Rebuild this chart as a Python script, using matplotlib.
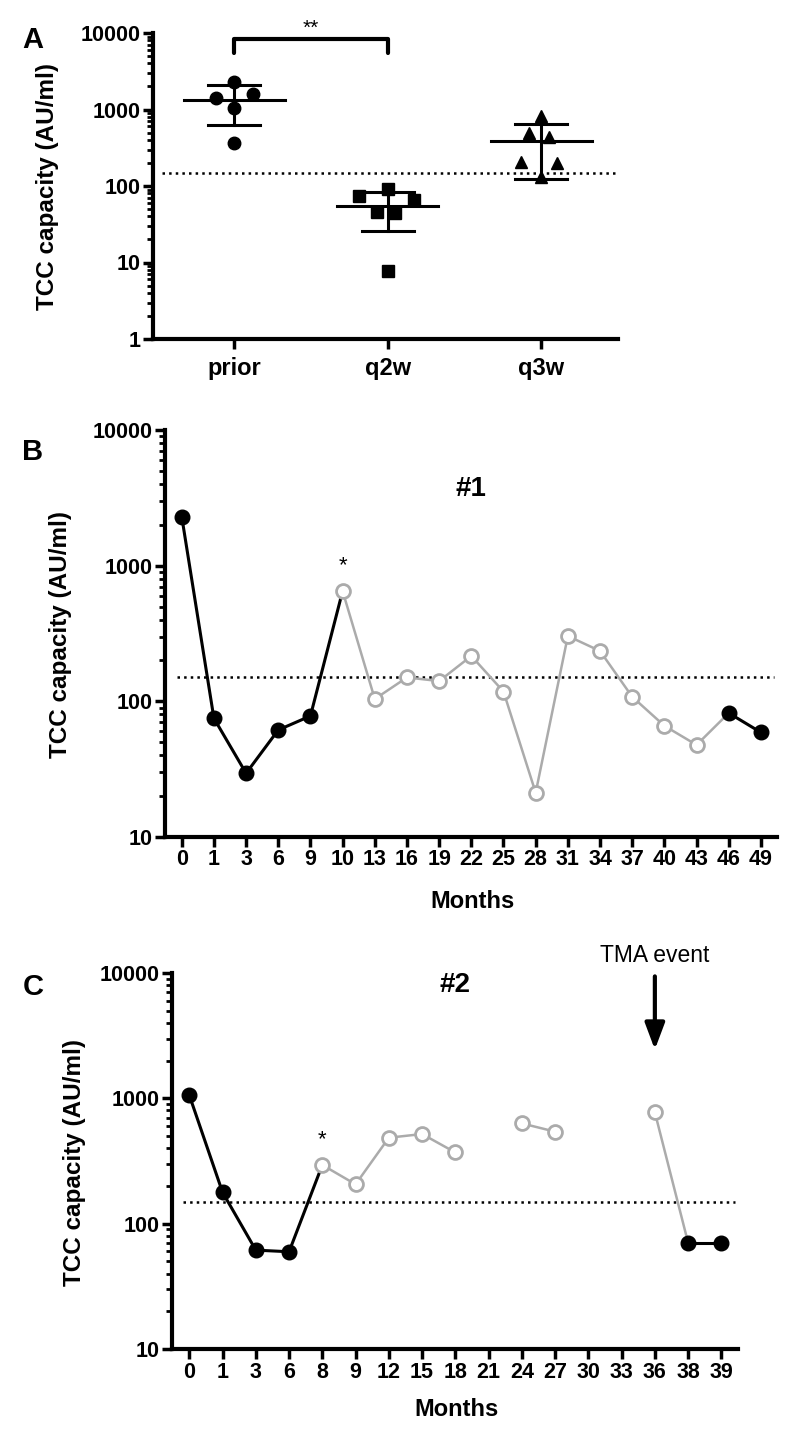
import matplotlib.pyplot as plt
import numpy as np
from matplotlib.ticker import FixedLocator, FixedFormatter, LogLocator, NullFormatter

plt.rcParams['font.family'] = ['Liberation Sans', 'DejaVu Sans']
plt.rcParams['font.weight'] = 'bold'

# ---- data ----
groups = ['prior', 'q2w', 'q3w']
prior = [2310, 1430, 1580, 1040, 360]
q2w = [74, 91, 66, 46, 45, 7.8]
q3w = [820, 500, 440, 208, 198, 132]
# horizontal spread of the points inside each column
prior_dx = [0, -0.12, 0.12, 0, 0]
q2w_dx = [-0.19, 0, 0.17, -0.07, 0.05, 0]
q3w_dx = [0, -0.08, 0.05, -0.13, 0.1, 0]

months_1 = [0, 1, 3, 6, 9, 10, 13, 16, 19, 22, 25, 28, 31, 34, 37, 40, 43, 46, 49]
tcc_1 = [2300, 75, 29.5, 61.5, 78, 650, 104, 150, 141, 216, 118, 21.2, 303, 235,
         108, 66, 47.7, 82, 59]
filled_1 = [1, 1, 1, 1, 1, 0, 0, 0, 0, 0, 0, 0, 0, 0, 0, 0, 0, 1, 1]

months_2 = [0, 1, 3, 6, 8, 9, 12, 15, 18, 21, 24, 27, 30, 33, 36, 38, 39]
tcc_2 = [1060, 178, 61.5, 59.7, 294, 206, 485, 519, 370, np.nan, 631, 542,
         np.nan, np.nan, 773, 70.4, 70.4]
filled_2 = [1, 1, 1, 1, 0, 0, 0, 0, 0, 0, 0, 0, 0, 0, 0, 1, 1]

cutoff = 150
GREY = '#ababab'

fig = plt.figure(figsize=(8, 14.39), dpi=100)
W, H = 800, 1439

def px_axes(l, r, t, b):
    return fig.add_axes([l / W, 1 - b / H, (r - l) / W, (b - t) / H])

def style(ax, ymin, xsize):
    for s in ['top', 'right']:
        ax.spines[s].set_visible(False)
    for s in ['left', 'bottom']:
        ax.spines[s].set_linewidth(3)
    ax.set_yscale('log')
    ax.set_ylim(ymin, 10000)
    majors = [v for v in [1, 10, 100, 1000, 10000] if v >= ymin]
    ax.yaxis.set_major_locator(FixedLocator(majors))
    ax.yaxis.set_major_formatter(FixedFormatter([str(v) for v in majors]))
    ax.yaxis.set_minor_locator(LogLocator(base=10, subs=np.arange(2, 10)))
    ax.yaxis.set_minor_formatter(NullFormatter())
    ax.tick_params(axis='both', which='major', length=7, width=2.5, pad=2)
    ax.tick_params(axis='y', labelsize=15.5)
    ax.tick_params(axis='x', labelsize=xsize)
    ax.tick_params(axis='y', which='minor', length=4, width=2)
    ax.axhline(cutoff, xmin=0.02, xmax=0.995, color='black', ls=':', lw=1.8, zorder=1)

# ---- panel A ----
axA = px_axes(153, 618, 33, 339)
style(axA, 1, 17)
axA.set_xlim(-0.53, 2.5)
axA.set_xticks(range(len(groups)))
axA.set_xticklabels(groups)
axA.tick_params(axis='x', pad=6)
markers = ['o', 's', '^']
msizes = [9, 8, 9]
for i, (vals, dx) in enumerate([(prior, prior_dx), (q2w, q2w_dx), (q3w, q3w_dx)]):
    vals = np.array(vals)
    axA.plot(i + np.array(dx), vals, ls='none', marker=markers[i], ms=msizes[i],
             color='black', zorder=3)
    m = vals.mean()
    sd = vals.std(ddof=1)
    axA.plot([i - 0.33, i + 0.33], [m, m], color='black', lw=2.2, zorder=2)
    axA.plot([i - 0.17, i + 0.17], [m + sd, m + sd], color='black', lw=2.2, zorder=2)
    axA.plot([i - 0.17, i + 0.17], [m - sd, m - sd], color='black', lw=2.2, zorder=2)
    axA.plot([i, i], [m - sd, m + sd], color='black', lw=2.2, zorder=2)
axA.plot([0, 0, 1, 1], [5430, 8280, 8280, 5430], color='black', lw=3,
         clip_on=False, solid_capstyle='round')
axA.annotate('**', (0.5, 8280), xytext=(0, 1), textcoords='offset points',
             ha='center', va='bottom', fontsize=15, fontweight='normal',
             annotation_clip=False)

# ---- panels B and C ----
def timeline(ax, months, tcc, filled, n):
    x = np.arange(n)
    ax.set_xlim(-0.52, n - 0.5)
    ax.set_xticks(x)
    ax.set_xticklabels([str(m) for m in months])
    for i in range(n - 1):
        if np.isnan(tcc[i]) or np.isnan(tcc[i + 1]):
            continue
        c = 'black' if filled[i] else GREY
        lw = 2.2 if filled[i] else 1.8
        ax.plot([x[i], x[i + 1]], [tcc[i], tcc[i + 1]], color=c, lw=lw, zorder=2)
    f = np.array(filled, bool)
    tcc = np.array(tcc)
    ax.plot(x[~f], tcc[~f], ls='none', marker='o', ms=10, mfc='white', mec=GREY,
            mew=2, zorder=3)
    ax.plot(x[f], tcc[f], ls='none', marker='o', ms=10.5, color='black', zorder=4)

axB = px_axes(165, 777, 430, 837)
style(axB, 10, 15.5)
timeline(axB, months_1, tcc_1, filled_1, len(months_1))
axB.text(5, 1000, '*', ha='center', va='center', fontsize=16, fontweight='normal')
axB.text(9, 3700, '#1', ha='center', va='center', fontsize=20)

axC = px_axes(172, 738, 973, 1349)
style(axC, 10, 15.5)
timeline(axC, months_2, tcc_2, filled_2, len(months_2))
axC.text(4, 470, '*', ha='center', va='center', fontsize=16, fontweight='normal')
axC.text(8, 8000, '#2', ha='center', va='center', fontsize=20)
axC.annotate('', xy=(14, 2450), xytext=(14, 9400), annotation_clip=False,
             arrowprops=dict(arrowstyle='-|>,head_width=0.6,head_length=1.6',
                             color='black', lw=3, shrinkA=0, shrinkB=0))
axC.text(14, 13700, 'TMA event', ha='center', va='center', fontsize=16.5,
         fontweight='normal', clip_on=False)

# ---- labels ----
for lab, y in [('A', 40), ('B', 452), ('C', 987)]:
    fig.text(33 / W, 1 - y / H, lab, ha='center', va='center', fontsize=21)
for xc, yc in [(48, 187), (60, 634), (75, 1162)]:
    fig.text(xc / W, 1 - yc / H, 'TCC capacity (AU/ml)', rotation=90,
             ha='center', va='center', fontsize=17.5)
fig.text(472 / W, 1 - 902 / H, 'Months', ha='center', va='center', fontsize=17)
fig.text(457 / W, 1 - 1410 / H, 'Months', ha='center', va='center', fontsize=17)

fig.savefig('out.png', dpi=100)
